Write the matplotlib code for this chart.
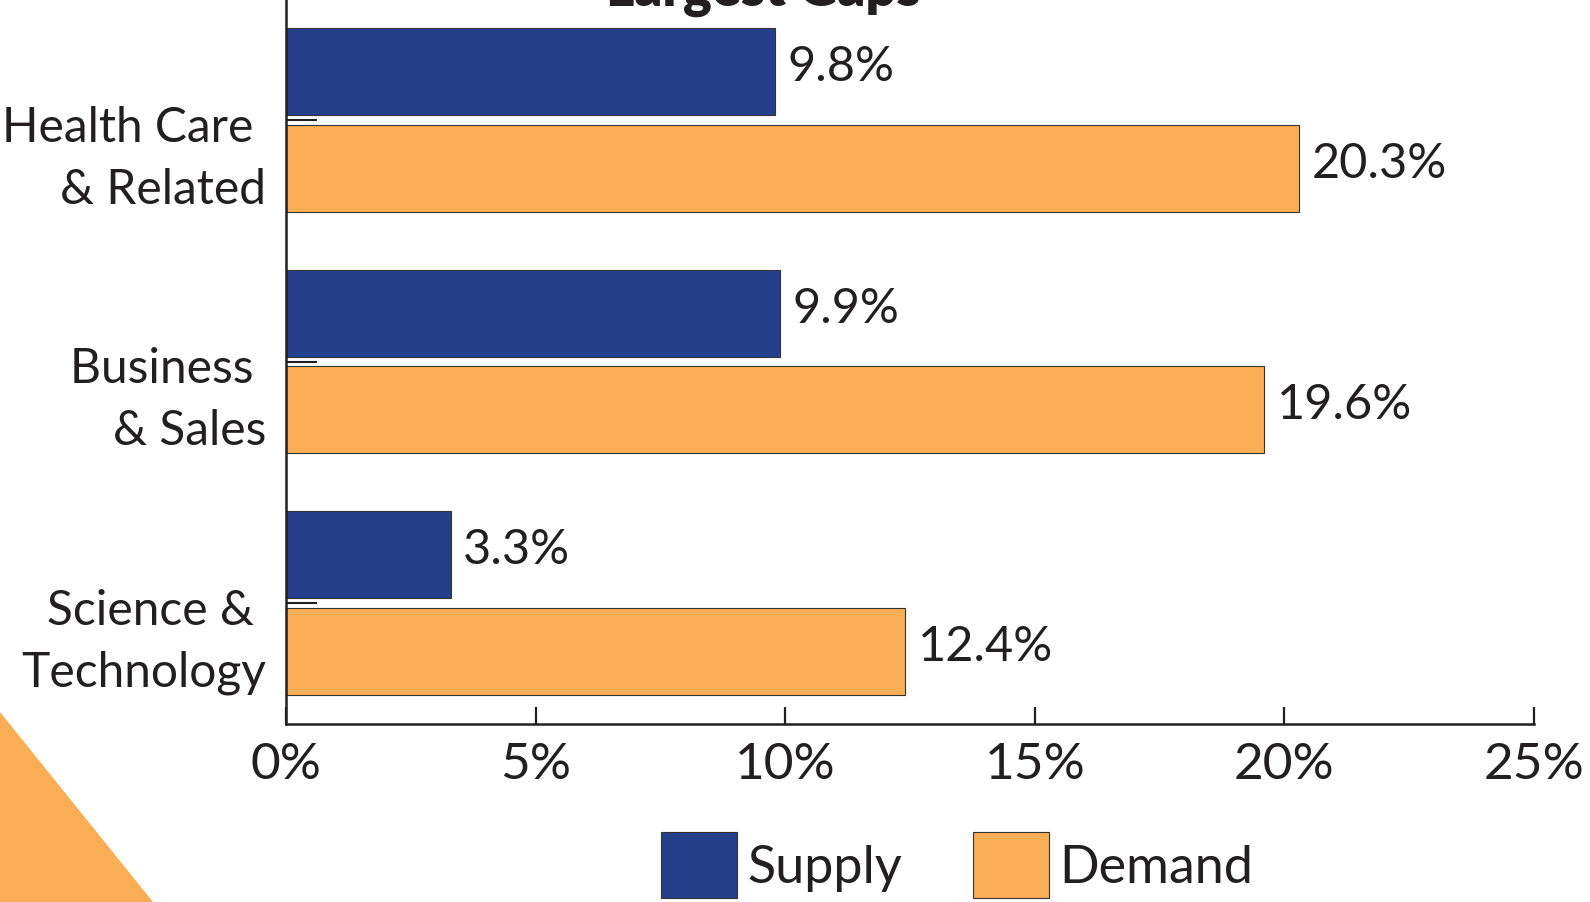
import numpy as np
import matplotlib
matplotlib.use("Agg")
import matplotlib.pyplot as plt
import matplotlib.transforms as mt
from matplotlib.patches import Polygon

categories = ["Health Care \n& Related", "Business \n& Sales", "Science & \nTechnology"]
supply = [9.8, 9.9, 3.3]
demand = [20.3, 19.6, 12.4]
x_ticks = [0, 5, 10, 15, 20, 25]
x_tick_labels = ["0%", "5%", "10%", "15%", "20%", "25%"]
series_names = ["Supply", "Demand"]
title = "Largest Gaps"

BLUE = "#243f8c"
ORANGE = "#f9ae55"
INK = "#231f20"
FONT = "Lato"
SIZE = 34.5

plt.rcParams["font.family"] = [FONT, "DejaVu Sans"]
plt.rcParams["text.color"] = INK

W, H = 1590, 903
figure = plt.figure(figsize=[W / 100, H / 100], dpi=100)

# axes box in pixels: left 286, right 1534, top 0, bottom 725
ax = figure.add_axes([286 / W, (H - 725) / H, 1248 / W, 725 / H])

y = np.arange(len(categories))
bar_h = 0.36
off = 0.2
b1 = ax.barh(y - off, supply, height=bar_h, color=BLUE, edgecolor="#333333",
             linewidth=0.8, label=series_names[0], zorder=2)
b2 = ax.barh(y + off, demand, height=bar_h, color=ORANGE, edgecolor="#333333",
             linewidth=0.8, label=series_names[1], zorder=2)

for bars, vals in [(b1, supply), (b2, demand)]:
    for rect, v in zip(bars, vals):
        ax.annotate(f"{v}%", xy=(v, rect.get_y() + rect.get_height() / 2),
                    xytext=(9, 4), textcoords="offset points",
                    ha="left", va="center", fontsize=SIZE + 0.5, color=INK)

ax.set_xlim(0, 25)
ax.set_ylim(2.5, -0.5)
ax.set_xticks(x_ticks)
ax.set_xticklabels(x_tick_labels, fontsize=37, color=INK)

# category labels sit a little below the tick, so draw them as text
ax.set_yticks(y)
ax.set_yticklabels([])
lab_tr = mt.blended_transform_factory(ax.transAxes, ax.transData)
for i, name in enumerate(categories):
    ax.text(-20 / 1248, i + 0.157, name, transform=lab_tr, ha="right",
            va="center", multialignment="right", linespacing=1.5,
            fontsize=SIZE, color=INK)

ax.tick_params(axis="x", direction="in", length=12, width=1.6, color=INK, pad=12)
ax.tick_params(axis="y", direction="in", length=22, width=1.5, color=INK)

for side in ["top", "right"]:
    ax.spines[side].set_visible(False)
for side in ["left", "bottom"]:
    ax.spines[side].set_linewidth(1.8)
    ax.spines[side].set_color(INK)
ax.spines["left"].set_zorder(3)

figure.text(763 / W, (H - 6) / H, title, ha="center", va="baseline",
            fontsize=39, fontweight="heavy", color=INK)

leg = figure.legend(handles=[b1, b2], labels=series_names, loc="center left",
                    bbox_to_anchor=(661 / W, 1 - 866 / H), ncol=2, frameon=False,
                    fontsize=37.5, handlelength=1.46, handleheight=1.55,
                    handletextpad=0.2, columnspacing=1.35, borderpad=0,
                    borderaxespad=0)

# orange corner triangle
tri = Polygon([[0, 0], [153 / W, 0], [0, 1 - 713 / H]], closed=True,
              transform=figure.transFigure, facecolor=ORANGE, edgecolor="none")
figure.patches.append(tri)

figure.savefig("out.png", dpi=100)
